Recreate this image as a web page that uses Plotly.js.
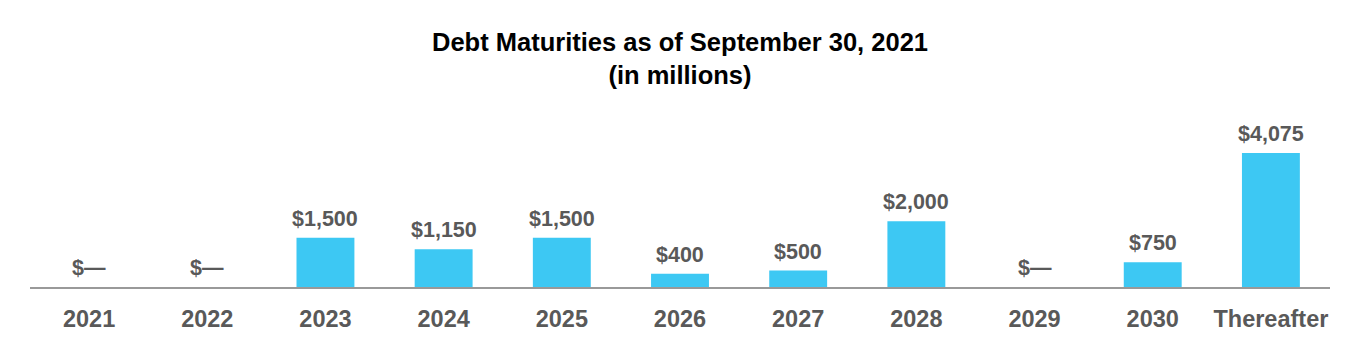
<!DOCTYPE html>
<html>
<head>
<meta charset="utf-8">
<script src="https://cdn.plot.ly/plotly-3.0.1.min.js"></script>
<style>html,body{margin:0;padding:0;background:#fff;}#chart{width:1360px;height:360px;}</style>
</head>
<body>
<div id="chart"></div>
<script>
const categories = ['2021','2022','2023','2024','2025','2026','2027','2028','2029','2030','Thereafter'];
const values = [0, 0, 1500, 1150, 1500, 400, 500, 2000, 0, 750, 4075];
const labels = values.map(v => v === 0 ? '$\u2014' : '$' + v.toLocaleString('en-US'));

const grey = '#595959';
const fam = 'Liberation Sans, Arial, sans-serif';
const trace = {
  type: 'bar',
  x: categories,
  y: values,
  marker: {color: '#3DC8F3'},
  width: 0.49,
  hoverinfo: 'none'
};
const annotations = categories.map((c, i) => ({
  x: i, y: values[i], xref: 'x', yref: 'y',
  text: '<b>' + labels[i] + '</b>',
  showarrow: false, xanchor: 'center', yanchor: 'bottom', yshift: 5,
  font: {family: fam, size: 21.5, color: grey}
}));
const layout = {
  width: 1360, height: 360,
  margin: {l: 30, r: 30, t: 120, b: 73},
  paper_bgcolor: '#fff', plot_bgcolor: '#fff',
  showlegend: false,
  annotations: annotations,
  title: {
    text: '<b>Debt Maturities as of September 30, 2021</b><br><b>(in millions)</b>',
    font: {family: fam, size: 25.5, color: '#000'},
    x: 0.5, xanchor: 'center', xref: 'paper',
    y: 1 - 51/360, yanchor: 'middle', yref: 'container'
  },
  xaxis: {
    type: 'category',
    categoryarray: categories, categoryorder: 'array',
    range: [-0.5, categories.length - 0.5],
    showline: true, linecolor: '#999999', linewidth: 2,
    showgrid: false, zeroline: false, ticks: '',
    ticklabelstandoff: 10,
    tickfont: {family: fam, size: 23.5, color: grey, weight: 'bold'}
  },
  yaxis: {
    range: [0, 5076], visible: false, showgrid: false, zeroline: false, fixedrange: true
  },
  bargap: 0.51
};
Plotly.newPlot('chart', [trace], layout, {displayModeBar: false, staticPlot: true});
</script>
</body>
</html>
